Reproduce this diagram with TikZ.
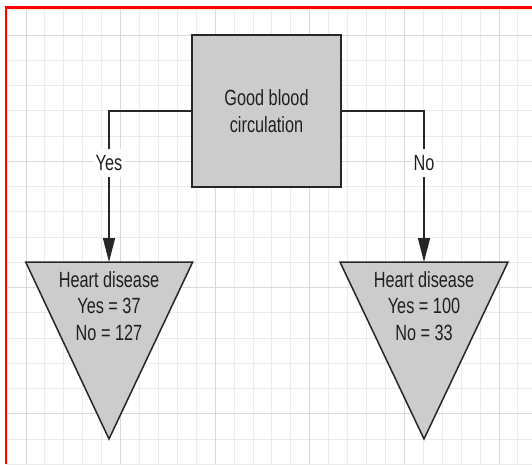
\documentclass[tikz,border=0pt]{standalone}
\usepackage{fontspec}
\setmainfont{Liberation Sans}[FakeStretch=0.74]
\usetikzlibrary{arrows.meta,positioning}

\begin{document}
\begin{tikzpicture}[x=1pt, y=-1pt,
    txt/.style={text=black!88, align=center, font=\fontsize{22}{26.5}\selectfont},
    box/.style={txt, rectangle, draw=black!85, line width=1.5pt, fill=black!20, minimum width=149pt, minimum height=152pt},
    leaf/.style={draw=black!85, line width=1.5pt, fill=black!20, line join=miter},
    answer/.style={txt, fill=white, inner xsep=2pt, inner ysep=6pt},
    arrow/.style={draw=black!85, line width=1.5pt, -{Triangle[length=24pt, width=12pt]}},
    minor/.style={black!8, line width=1pt},
    major/.style={black!15, line width=1pt}]

    \useasboundingbox (0,0) rectangle (532,464);

    % Background grid
    \begin{scope}
        \clip (6,7.5) rectangle (532,464);
        \foreach \i in {-1,...,27}
            \draw [minor] ({26+18.92*\i},0) -- ({26+18.92*\i},464);
        \foreach \j in {-1,...,17}
            \draw [minor] (0,{35+25.25*\j}) -- (532,{35+25.25*\j});
        \foreach \i in {0,5,...,25}
            \draw [major] ({26+18.92*\i},0) -- ({26+18.92*\i},464);
        \foreach \j in {0,5,10,15}
            \draw [major] (0,{35+25.25*\j}) -- (532,{35+25.25*\j});
    \end{scope}
    \draw [red, line width=2.6pt] (6,464) -- (6,7.3) -- (532,7.3);

    % Node for the split
    \node [box] (circ) at (266.5,111) {Good blood\\circulation};

    % Left leaf
    \coordinate (yestop) at (109,262);
    \draw [leaf] (25.7,262) -- (192.7,262) -- (109,439) -- cycle;
    \node [txt] (yesleaf) at (109,306) {Heart disease\\Yes = 37\\No = 127};

    % Right leaf
    \coordinate (notop) at (424,262);
    \draw [leaf] (340,262) -- (508,262) -- (424,439) -- cycle;
    \node [txt] (noleaf) at (424,306) {Heart disease\\Yes = 100\\No = 33};

    % Draw the branches with their answers
    \draw [arrow] (circ.west) -| node [answer, pos=0.672] {Yes} (yestop);
    \draw [arrow] (circ.east) -| node [answer, pos=0.672] {No} (notop);
\end{tikzpicture}
\end{document}
